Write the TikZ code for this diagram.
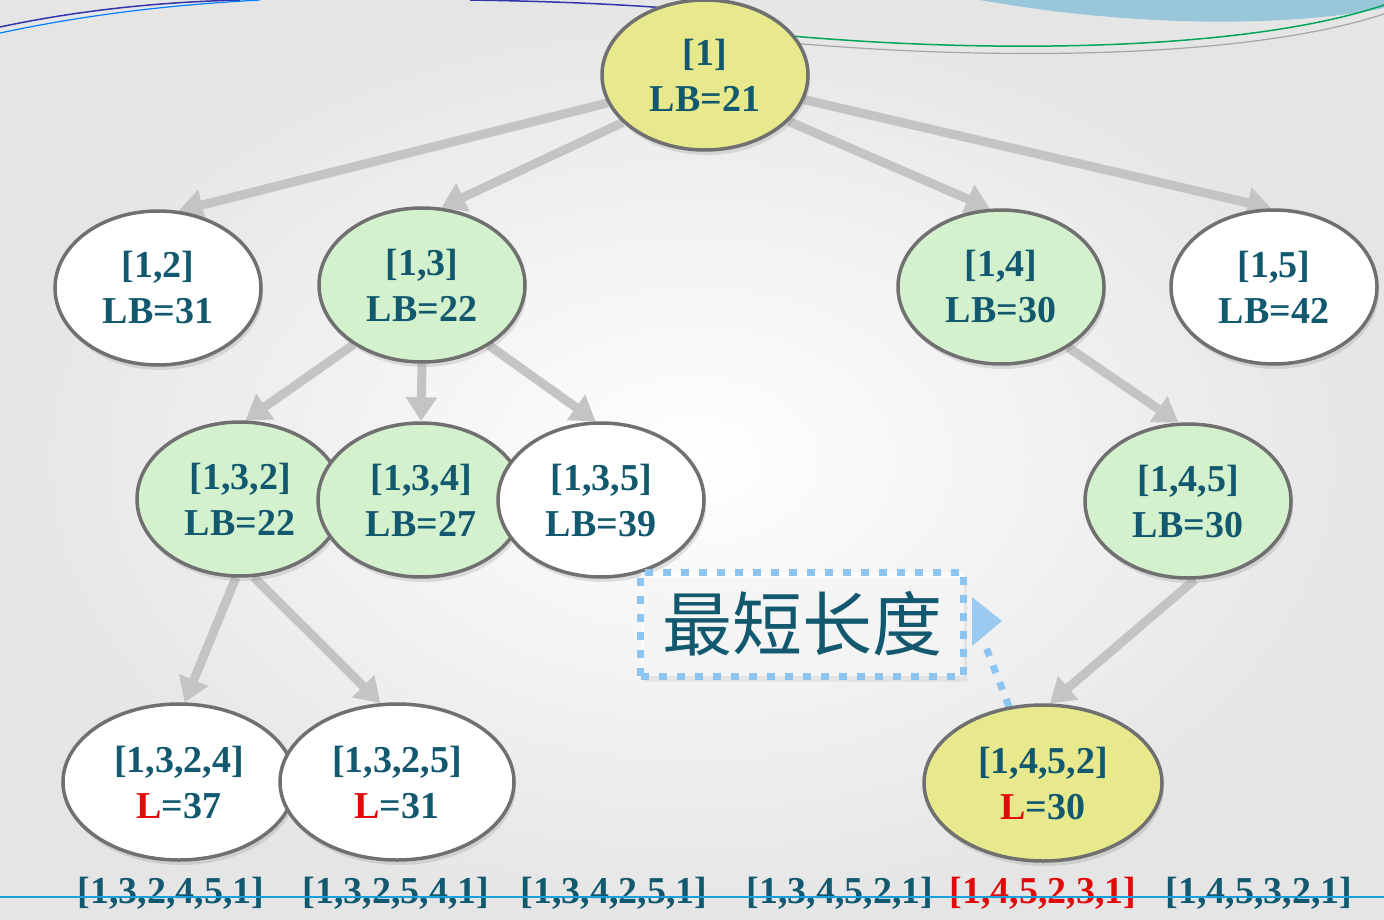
\documentclass[tikz,border=0pt]{standalone}
\usepackage{fontspec}
\setmainfont{Liberation Serif}
\newfontfamily\cjk{Noto Sans CJK SC}
\usetikzlibrary{shapes.geometric,arrows.meta,shadows}
\pgfdeclarelayer{back}
\pgfdeclarelayer{arrows}
\pgfsetlayers{back,arrows,main}
\definecolor{txt}{RGB}{18,88,110}
\definecolor{bord}{RGB}{112,112,112}
\definecolor{grn}{RGB}{212,241,206}
\definecolor{yel}{RGB}{232,233,140}
\definecolor{arrc}{RGB}{196,196,196}
\definecolor{callb}{RGB}{140,196,242}
\definecolor{redl}{RGB}{225,10,10}
\definecolor{lineblue}{RGB}{26,160,220}
\tikzset{
  nd/.style={ellipse, draw=bord, line width=3.5pt, minimum width=206pt, minimum height=154pt,
    inner sep=0pt, align=center, text=txt, font=\fontsize{38}{46}\selectfont\bfseries,
    drop shadow={shadow xshift=2pt, shadow yshift=-5pt, opacity=0.22}},
  wide/.style={minimum width=234pt, minimum height=156pt},
  arr/.style={line width=9pt, draw=arrc, -{Triangle[width=30pt,length=24pt]}},
  path/.style={text=txt, font=\fontsize{38}{40}\selectfont\bfseries, inner sep=0pt},
  callbox/.style={draw=callb, line width=7pt, dash pattern=on 8pt off 10pt, fill=white, fill opacity=0.6, text opacity=1,
    minimum width=323pt, minimum height=104pt, text=txt, font=\cjk\fontsize{70}{72}\selectfont},
  calldash/.style={draw=callb, line width=7pt, dash pattern=on 8pt off 10pt}
}
\begin{document}
\begin{tikzpicture}[x=1pt,y=-1pt]
\useasboundingbox (0,0) rectangle (1384,920);
\begin{pgfonlayer}{back}
  \shade[inner color=white, outer color=gray!20] (0,0) rectangle (1384,920);
  \fill[cyan!45!teal!55, opacity=0.8] (980,0) .. controls (1150,30) and (1300,25) .. (1384,8) -- (1384,0) -- cycle;
  \draw[blue!60!black!80, line width=1.5pt] (0,27) .. controls (80,10) and (160,2) .. (240,0);
  \draw[blue!50!cyan, line width=1.2pt] (0,33) .. controls (90,14) and (170,5) .. (260,0);
  \draw[blue!60!black!80, line width=1.5pt] (470,0) .. controls (600,2) and (680,8) .. (740,15);
  \draw[teal!70!green, line width=1.5pt] (780,35) .. controls (1000,55) and (1250,50) .. (1384,5);
  \draw[gray!70, line width=1.2pt] (780,42) .. controls (1000,62) and (1250,58) .. (1384,14);
\end{pgfonlayer}

\node[nd, fill=yel, minimum height=150pt] (n1) at (705,75) {[1]\\LB=21};
\node[nd, fill=white] (n12) at (158,288) {[1,2]\\LB=31};
\node[nd, fill=grn] (n13) at (422,285) {[1,3]\\LB=22};
\node[nd, fill=grn] (n14) at (1001,287) {[1,4]\\LB=30};
\node[nd, fill=white] (n15) at (1274,287) {[1,5]\\LB=42};
\node[nd, fill=grn] (n132) at (240,499) {[1,3,2]\\LB=22};
\node[nd, fill=grn] (n134) at (421,500) {[1,3,4]\\LB=27};
\node[nd, fill=white] (n135) at (601,500) {[1,3,5]\\LB=39};
\node[nd, fill=grn] (n145) at (1188,501) {[1,4,5]\\LB=30};
\node[nd, wide, fill=white, minimum width=232pt] (n1324) at (179,782) {[1,3,2,4]\\\textcolor{redl}{L}=37};
\node[nd, wide, fill=white] (n1325) at (397,782) {[1,3,2,5]\\\textcolor{redl}{L}=31};
\node[nd, wide, fill=yel, minimum width=238pt] (n1452) at (1043,783) {[1,4,5,2]\\\textcolor{redl}{L}=30};

\begin{pgfonlayer}{arrows}
  \draw[arr] (n1.196) -- (n12.75);
  \draw[arr] (n1.210) -- (n13.76);
  \draw[arr] (n1.331) -- (n14.98);
  \draw[arr] (n1.346) -- (n15.92);
  \draw[arr] (n13.221) -- (n132.86);
  \draw[arr] (n13.270) -- (n134.90);
  \draw[arr] (n13.318) -- (n135.94);
  \draw[arr] (n14.318) -- (n145.97);
  \draw[arr] (n132.267) -- (n1324.86);
  \draw[arr] (n132.280) -- (n1325.102);
  \draw[arr] (n145.275) -- (n1452.85);
  \coordinate (ptr) at (984,642);
  \draw[calldash] (n1452.114) -- (ptr);
  \fill[callb, opacity=0.85] (972,597) -- (1002,621) -- (972,646) -- cycle;
\end{pgfonlayer}

\node[callbox, drop shadow={shadow xshift=3pt, shadow yshift=-6pt, opacity=0.12}] (call) at (802,624) {最短长度};

\node[path] (p1) at (171,893) {[1,3,2,4,5,1]};
\node[path] (p2) at (396,893) {[1,3,2,5,4,1]};
\node[path] (p3) at (614,893) {[1,3,4,2,5,1]};
\node[path] (p4) at (840,893) {[1,3,4,5,2,1]};
\node[path, text=redl] (p5) at (1043,893) {[1,4,5,2,3,1]};
\node[path] (p6) at (1259,893) {[1,4,5,3,2,1]};
\draw[lineblue, line width=2pt] (0,897) -- (1384,897);
\end{tikzpicture}
\end{document}
